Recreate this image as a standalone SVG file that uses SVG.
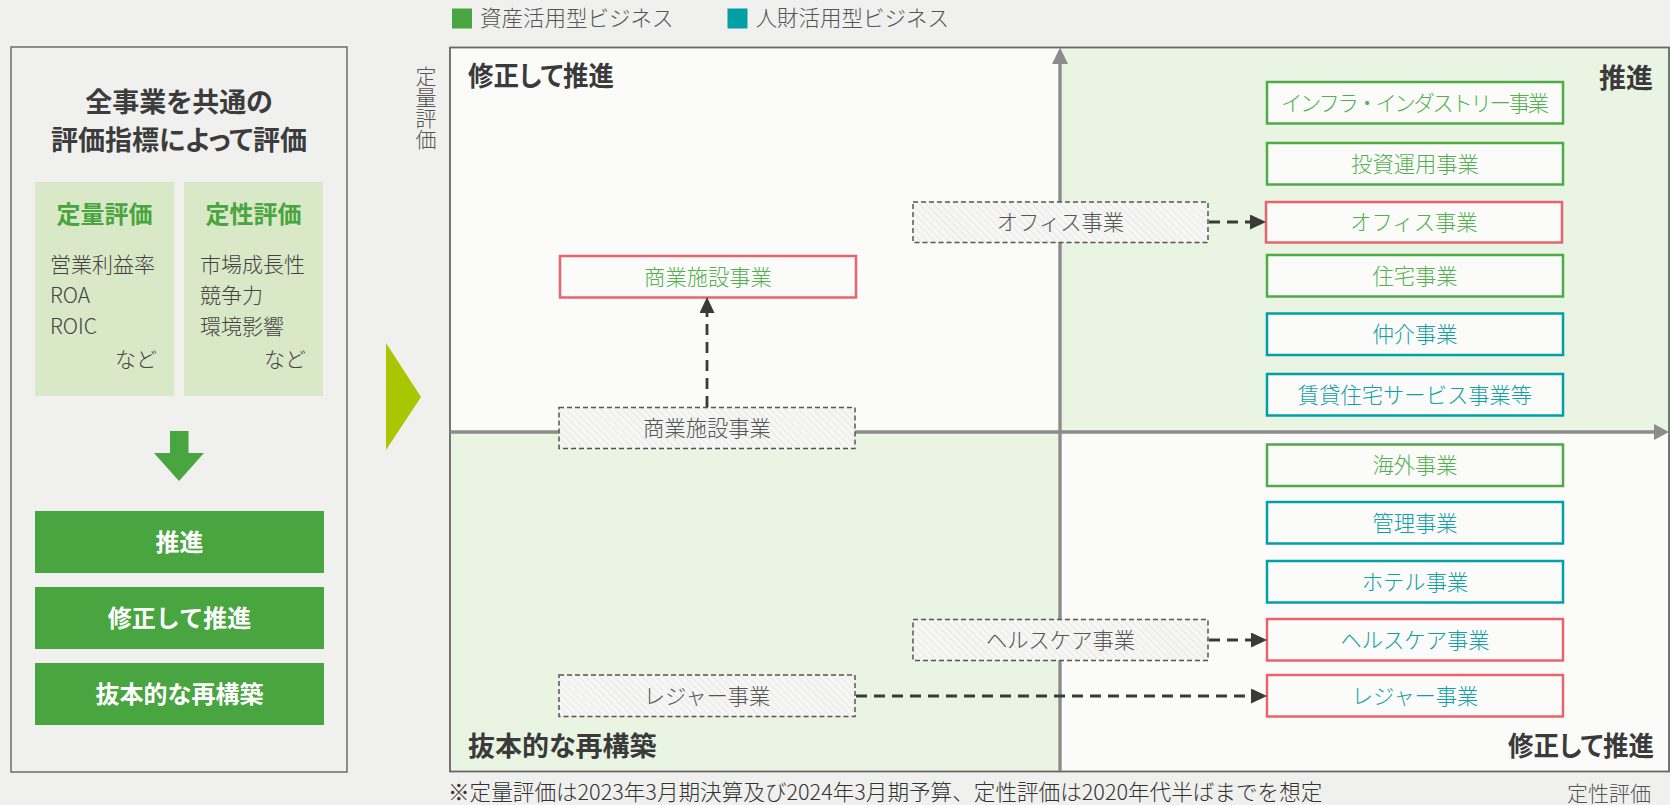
<svg xmlns="http://www.w3.org/2000/svg" width="1670" height="805" viewBox="0 0 1670 805">
<style>
text{font-family:"Noto Sans CJK JP","Noto Sans",sans-serif}
.t26b{font-size:27px;font-weight:700;fill:#3c3c3c;font-feature-settings:"palt"}
.q{font-size:27px;font-weight:700;fill:#3a3a3a;font-feature-settings:"palt"}
.hdr{font-size:24px;font-weight:700;fill:#48a540;text-anchor:middle}
.item{font-size:21px;fill:#444;font-weight:300}
.btn{fill:#48a540}
.btnt{font-size:24px;font-weight:700;fill:#ffffff;text-anchor:middle}
.grey{font-size:21px;fill:#555;font-weight:300}
.leg{font-size:21.5px;fill:#555;font-weight:300}
.node{fill:#fbfbfa;stroke-width:2.5}
.g{stroke:#4eab46}
.tl{stroke:#00a0a6}
.r{stroke:#e9636b}
.nt{font-size:21.3px;text-anchor:middle;font-weight:300}
.gt{fill:#52b04f}
.tt{fill:#139fa6}
.old{fill:url(#hatch);stroke:#555;stroke-width:1.5;stroke-dasharray:5 3}
.oldt{font-size:21.3px;fill:#555;text-anchor:middle;font-weight:300}
.conn{fill:none;stroke:#3b3b36;stroke-width:2.8;stroke-dasharray:11 7;marker-end:url(#ah)}
</style>
<defs>
<pattern id="hatch" patternUnits="userSpaceOnUse" width="5" height="5" patternTransform="rotate(-45)">
<rect width="5" height="5" fill="#f6f6f4"/>
<line x1="0" y1="0" x2="0" y2="5" stroke="#e0e0de" stroke-width="1.2"/>
</pattern>
<marker id="ah" markerUnits="userSpaceOnUse" markerWidth="16" markerHeight="16" refX="0" refY="7.5" orient="auto">
<path d="M0,0 L16,7.5 L0,15 Z" fill="#3b3b36"/>
</marker>
</defs>
<rect width="1670" height="805" fill="#f0f0ee"/>

<g id="legend">
<rect x="452" y="8.5" width="20" height="20" fill="#48a540"/>
<text x="480" y="25.5" class="leg">資産活用型ビジネス</text>
<rect x="727.5" y="8.5" width="20" height="20" fill="#00a0a6"/>
<text x="755.5" y="25.5" class="leg">人財活用型ビジネス</text>
</g>

<g id="left-panel">
<rect x="11" y="47" width="336" height="725" fill="none" stroke="#6b6b6b" stroke-width="1.5"/>
<text x="179" y="112" class="t26b" text-anchor="middle">全事業を共通の</text>
<text x="179" y="150" class="t26b" text-anchor="middle">評価指標によって評価</text>
</g>

<g id="quant-box">
<rect x="35" y="182" width="139" height="214" fill="#d9e8c7"/>
<text x="104.5" y="223" class="hdr">定量評価</text>
<text x="50" y="272" class="item">営業利益率</text>
<text x="50" y="303" class="item">ROA</text>
<text x="50" y="334" class="item">ROIC</text>
<text x="157" y="367" class="item" text-anchor="end">など</text>
</g>

<g id="qual-box">
<rect x="184" y="182" width="139" height="214" fill="#d9e8c7"/>
<text x="253.5" y="223" class="hdr">定性評価</text>
<text x="200" y="272" class="item">市場成長性</text>
<text x="200" y="303" class="item">競争力</text>
<text x="200" y="334" class="item">環境影響</text>
<text x="306" y="367" class="item" text-anchor="end">など</text>
</g>

<g id="down-arrow">
<polygon points="170,431 188.5,431 188.5,453 204,453 179,481 154,453 170,453" fill="#48a540"/>
</g>

<g id="btn-promote">
<rect x="35" y="511" width="289" height="62" class="btn"/>
<text x="179.5" y="551" class="btnt">推進</text>
</g>
<g id="btn-modify">
<rect x="35" y="587" width="289" height="62" class="btn"/>
<text x="179.5" y="627" class="btnt">修正して推進</text>
</g>
<g id="btn-rebuild">
<rect x="35" y="663" width="289" height="62" class="btn"/>
<text x="179.5" y="703" class="btnt">抜本的な再構築</text>
</g>

<g id="chevron">
<polygon points="386,343 421,397 386,450" fill="#a9c700"/>
</g>

<g id="chart">
<rect x="450" y="47.5" width="610" height="384" fill="#fbfbfa"/>
<rect x="1060" y="47.5" width="609" height="384" fill="#e9f4e3"/>
<rect x="450" y="431.5" width="610" height="340" fill="#e9f4e3"/>
<rect x="1060" y="431.5" width="609" height="340" fill="#fbfbfa"/>
<rect x="450" y="47.5" width="1219" height="724" fill="none" stroke="#666" stroke-width="1.8"/>
<line x1="1060" y1="771" x2="1060" y2="62" stroke="#8c8c8c" stroke-width="3.4"/>
<polygon points="1060,47.5 1052,64 1068,64" fill="#8c8c8c"/>
<line x1="450" y1="432" x2="1656" y2="432" stroke="#8c8c8c" stroke-width="3.4"/>
<polygon points="1669,432 1654,424 1654,440" fill="#8c8c8c"/>
<text x="468" y="86" class="q" textLength="146" lengthAdjust="spacingAndGlyphs">修正して推進</text>
<text x="1653" y="88" class="q" text-anchor="end">推進</text>
<text x="468" y="756" class="q">抜本的な再構築</text>
<text x="1508" y="756" class="q" textLength="146" lengthAdjust="spacingAndGlyphs">修正して推進</text>
<text x="426" y="65.5" class="grey" style="writing-mode:vertical-rl">定量評価</text>
<text x="1651" y="801" class="grey" text-anchor="end">定性評価</text>
</g>

<g id="n-infra"><rect x="1267" y="82" width="296" height="41.5" class="node g"/><text x="1415" y="110.5" class="nt gt" textLength="268" lengthAdjust="spacing">インフラ・インダストリー事業</text></g>
<g id="n-invest"><rect x="1267" y="143" width="296" height="41.5" class="node g"/><text x="1415" y="171.5" class="nt gt">投資運用事業</text></g>
<g id="n-office"><rect x="1266" y="202" width="296" height="40.5" class="node r"/><text x="1414" y="230" class="nt gt">オフィス事業</text></g>
<g id="n-housing"><rect x="1267" y="255" width="296" height="41.5" class="node g"/><text x="1415" y="283.5" class="nt gt">住宅事業</text></g>
<g id="n-brokerage"><rect x="1267" y="313.5" width="296" height="41.5" class="node tl"/><text x="1415" y="342" class="nt tt">仲介事業</text></g>
<g id="n-rental"><rect x="1267" y="374" width="296" height="41.5" class="node tl"/><text x="1415" y="402.5" class="nt tt">賃貸住宅サービス事業等</text></g>
<g id="n-overseas"><rect x="1267" y="444.5" width="296" height="41.5" class="node g"/><text x="1415" y="473" class="nt gt">海外事業</text></g>
<g id="n-mgmt"><rect x="1267" y="502" width="296" height="41.5" class="node tl"/><text x="1415" y="530.5" class="nt tt">管理事業</text></g>
<g id="n-hotel"><rect x="1267" y="561" width="296" height="41.5" class="node tl"/><text x="1415" y="589.5" class="nt tt">ホテル事業</text></g>
<g id="n-health"><rect x="1267" y="619" width="296" height="41.5" class="node r"/><text x="1415" y="647.5" class="nt tt">ヘルスケア事業</text></g>
<g id="n-leisure"><rect x="1267" y="675" width="296" height="41.5" class="node r"/><text x="1415" y="703.5" class="nt tt">レジャー事業</text></g>
<g id="n-commercial"><rect x="560" y="256" width="296" height="41.5" class="node r"/><text x="708" y="284.5" class="nt gt">商業施設事業</text></g>

<g id="old-office"><rect x="913" y="202" width="295" height="40.5" class="old"/><text x="1060.5" y="230" class="oldt">オフィス事業</text></g>
<g id="old-commercial"><rect x="559" y="407.5" width="296" height="41" class="old"/><text x="707" y="435.5" class="oldt">商業施設事業</text></g>
<g id="old-health"><rect x="913" y="619.5" width="295" height="41" class="old"/><text x="1060.5" y="647.5" class="oldt">ヘルスケア事業</text></g>
<g id="old-leisure"><rect x="559" y="675" width="296" height="41.5" class="old"/><text x="707" y="703.5" class="oldt">レジャー事業</text></g>

<g id="connectors">
<line x1="1209" y1="222" x2="1250" y2="222" class="conn"/>
<line x1="707" y1="407" x2="707" y2="313" class="conn"/>
<line x1="1209" y1="640" x2="1251" y2="640" class="conn"/>
<line x1="856" y1="696" x2="1251" y2="696" class="conn"/>
</g>

<text x="448" y="800" font-size="21.6" fill="#333" font-weight="300">※定量評価は2023年3月期決算及び2024年3月期予算、定性評価は2020年代半ばまでを想定</text>
</svg>
